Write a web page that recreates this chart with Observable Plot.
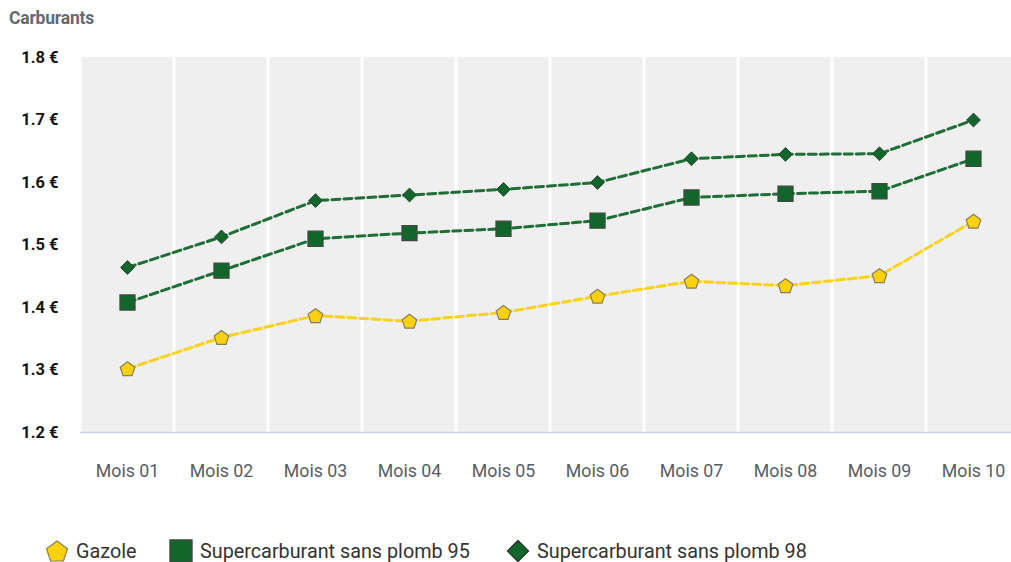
<!DOCTYPE html>
<html>
<head>
<meta charset="utf-8">
<script src="https://cdn.jsdelivr.net/npm/d3@7"></script>
<script src="https://cdn.jsdelivr.net/npm/@observablehq/plot@0.6"></script>
<style>
  html, body { margin: 0; padding: 0; background: #fff; }
  body { width: 1011px; height: 562px; overflow: hidden; position: relative; font-family: Roboto, "Noto Sans", sans-serif; }
  #title { position: absolute; left: 9px; top: 8px; font-size: 17.5px; font-weight: bold; color: #656a72; letter-spacing: -0.2px; }
  #chart { position: absolute; left: 0; top: 36px; }
  .leg { position: absolute; top: 539px; display: flex; align-items: center; font-size: 19.8px; color: #333; white-space: nowrap; }
  .leg svg { margin-right: 7px; }
</style>
</head>
<body>
<div id="title">Carburants</div>
<div id="chart"></div>
<div id="legend"></div>
<script>
const months = ["Mois 01","Mois 02","Mois 03","Mois 04","Mois 05","Mois 06","Mois 07","Mois 08","Mois 09","Mois 10"];
const seriesNames = ["Gazole","Supercarburant sans plomb 95","Supercarburant sans plomb 98"];
const gazole = [1.302, 1.352, 1.387, 1.378, 1.392, 1.418, 1.442, 1.435, 1.451, 1.538];
const sp95   = [1.408, 1.459, 1.510, 1.519, 1.526, 1.539, 1.576, 1.582, 1.586, 1.638];
const sp98   = [1.464, 1.513, 1.571, 1.580, 1.589, 1.600, 1.638, 1.645, 1.646, 1.700];
const yTicks = [1.2, 1.3, 1.4, 1.5, 1.6, 1.7, 1.8];
const colors = ["#f9d10f", "#12662b", "#12662b"];

const rows = [];
[gazole, sp95, sp98].forEach((vals, i) => vals.forEach((v, j) => rows.push({series: seriesNames[i], month: months[j], value: v})));

const pentagon = {
  draw(context, size) {
    const R = Math.sqrt(size / Math.PI) * 1.05;
    for (let k = 0; k < 5; k++) {
      const a = -Math.PI / 2 + k * 2 * Math.PI / 5;
      const px = R * Math.cos(a), py = R * Math.sin(a) + R * 0.1;
      if (k === 0) context.moveTo(px, py); else context.lineTo(px, py);
    }
    context.closePath();
  }
};

const chart = Plot.plot({
  width: 1011,
  height: 470,
  marginLeft: 80,
  marginRight: 0,
  marginTop: 21,
  marginBottom: 74,
  style: { fontFamily: "Roboto, sans-serif", background: "transparent", overflow: "visible" },
  x: { type: "band", domain: months, range: [80, 1020], padding: 0 },
  y: { domain: [1.2, 1.8] },
  color: { domain: seriesNames, range: colors },
  marks: [
    Plot.rectY(months, { x: d => d, y1: 1.2, y2: 1.8, fill: "#efefef", insetLeft: 1.5, insetRight: 1.5 }),
    Plot.ruleY([1.2], { stroke: "#c9d2ea", strokeWidth: 1.5 }),
    Plot.axisY({ ticks: yTicks, tickFormat: d => d.toFixed(1) + " €", tickSize: 0, tickPadding: 22, fontSize: 16.5, fontWeight: "bold", fill: "#141414", label: null }),
    Plot.axisX({ tickSize: 0, tickPadding: 32, fontSize: 17.8, fill: "#585c66", label: null }),
    Plot.line(rows, { x: "month", y: "value", z: "series", stroke: "series", strokeWidth: 3, strokeDasharray: "8,4", strokeOpacity: 0.95 }),
    Plot.dot(rows.filter(d => d.series === seriesNames[0]), { x: "month", y: "value", symbol: pentagon, r: 7.3, fill: colors[0], stroke: "#8a7f55", strokeWidth: 1.2 }),
    Plot.dot(rows.filter(d => d.series === seriesNames[1]), { x: "month", y: "value", symbol: "square", r: 8.5, fill: colors[1], stroke: "#3e4a3f", strokeWidth: 1.2 }),
    Plot.dot(rows.filter(d => d.series === seriesNames[2]), { x: "month", y: "value", symbol: "diamond2", r: 6.2, fill: colors[2], stroke: "#244a2c", strokeWidth: 1 })
  ]
});
document.getElementById("chart").appendChild(chart);

// legend
const legendDefs = [
  { name: seriesNames[0], left: 45, symbol: pentagon, fill: colors[0], stroke: "#8a7f55", r: 10.5 },
  { name: seriesNames[1], left: 169, symbol: d3.symbolSquare, fill: colors[1], stroke: "#3e4a3f", r: 12.5 },
  { name: seriesNames[2], left: 506, symbol: d3.symbolDiamond2, fill: colors[2], stroke: "#1e3323", r: 9.5 }
];
const legend = d3.select("#legend");
legendDefs.forEach(d => {
  const item = legend.append("div").attr("class", "leg").style("left", d.left + "px");
  const s = item.append("svg").attr("width", 24).attr("height", 24);
  s.append("path")
    .attr("transform", "translate(12,12)")
    .attr("d", d3.symbol(d.symbol, Math.PI * d.r * d.r)())
    .attr("fill", d.fill).attr("stroke", d.stroke).attr("stroke-width", 1.2);
  item.append("span").text(d.name);
});
</script>
</body>
</html>
